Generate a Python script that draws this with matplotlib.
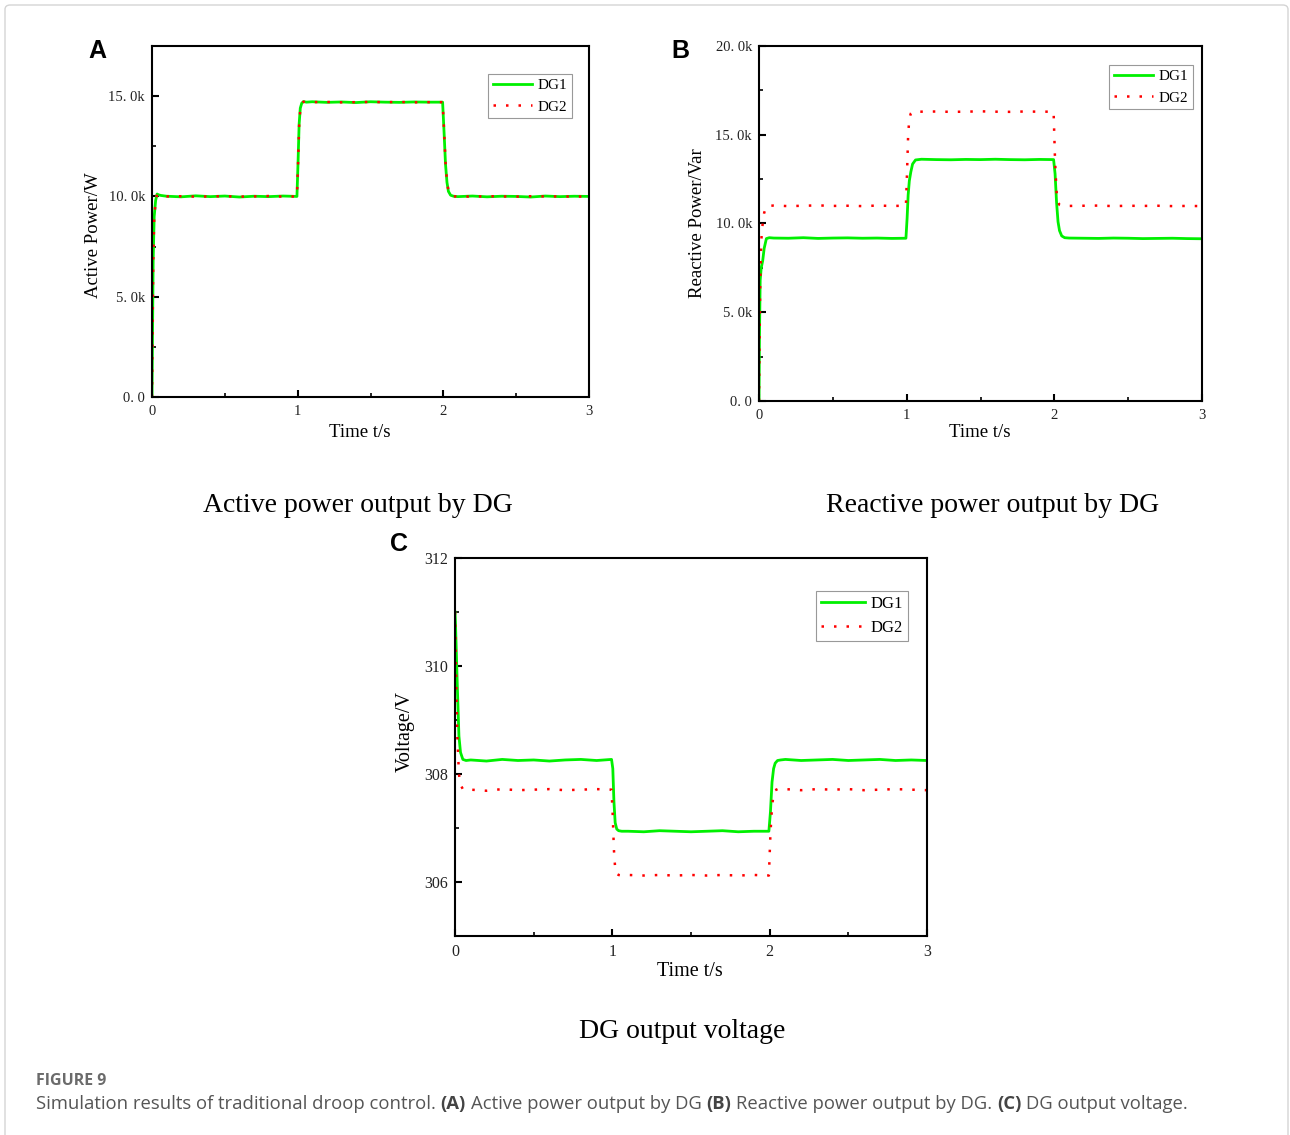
import matplotlib
matplotlib.use('Agg')
import matplotlib.pyplot as plt
from matplotlib.ticker import MultipleLocator, FuncFormatter
from matplotlib.patches import FancyBboxPatch

plt.rcParams['font.family'] = ['Liberation Serif', 'DejaVu Serif']

W, H = 1290, 1135
GREEN = '#00f000'
RED = '#ff0000'

# time samples (s), same layout for all three panels
t_a = [0, 0.003, 0.008, 0.015, 0.025, 0.035, 0.045, 0.06, 0.1, 0.2, 0.3, 0.4, 0.5, 0.6, 0.7, 0.8, 0.9, 0.995,
       1.003, 1.01, 1.018, 1.028, 1.04, 1.06, 1.1, 1.2, 1.3, 1.4, 1.5, 1.6, 1.7, 1.8, 1.9, 1.995,
       2.005, 2.015, 2.025, 2.035, 2.05, 2.07, 2.1, 2.2, 2.3, 2.4, 2.5, 2.6, 2.7, 2.8, 2.9, 3.0]
t_b = [0, 0.003, 0.008, 0.015, 0.025, 0.035, 0.05, 0.07, 0.1, 0.2, 0.3, 0.4, 0.5, 0.6, 0.7, 0.8, 0.9, 0.995,
       1.003, 1.01, 1.018, 1.028, 1.04, 1.06, 1.1, 1.2, 1.3, 1.4, 1.5, 1.6, 1.7, 1.8, 1.9, 1.995,
       2.005, 2.015, 2.025, 2.035, 2.05, 2.07, 2.1, 2.2, 2.3, 2.4, 2.5, 2.6, 2.7, 2.8, 2.9, 3.0]
t_c = t_b

# (A) active power, W
p_dg1 = [0, 2600, 6800, 9000, 9800, 10120, 10080, 10050, 10010, 9980, 10030, 9990, 10020, 9970, 10010, 9990, 10020, 10000,
         11800, 13600, 14400, 14650, 14730, 14700, 14720, 14690, 14710, 14680, 14720, 14700, 14690, 14710, 14700, 14700,
         13200, 11600, 10700, 10250, 10060, 10010, 9990, 10020, 9980, 10010, 10000, 9970, 10020, 9990, 10010, 10000]
p_dg2 = [0, 2500, 6700, 8900, 9750, 10100, 10060, 10030, 10000, 10010, 9990, 10000, 10010, 9990, 10000, 10020, 9990, 10000,
         11700, 13500, 14350, 14630, 14720, 14710, 14700, 14710, 14690, 14700, 14710, 14700, 14710, 14690, 14700, 14700,
         13300, 11700, 10750, 10280, 10070, 10000, 10000, 9990, 10010, 10000, 9990, 10010, 10000, 10000, 9990, 10000]

# (B) reactive power, Var
q_dg1 = [0, 3500, 6800, 7500, 7900, 8600, 9150, 9200, 9180, 9170, 9200, 9160, 9180, 9190, 9170, 9180, 9160, 9170,
         10300, 11600, 12400, 12900, 13350, 13580, 13620, 13600, 13590, 13610, 13600, 13620, 13600, 13590, 13610, 13600,
         12800, 11200, 10100, 9600, 9300, 9200, 9180, 9170, 9160, 9180, 9170, 9150, 9160, 9170, 9150, 9140]
q_dg2 = [0, 3000, 6500, 9000, 10000, 10600, 10950, 11000, 11010, 10980, 11000, 11020, 10990, 11000, 10980, 11010, 10990, 11000,
         13000, 15000, 15900, 16200, 16300, 16320, 16300, 16310, 16290, 16300, 16320, 16300, 16290, 16310, 16300, 16300,
         13500, 11800, 11200, 11050, 11000, 11010, 10990, 11000, 11010, 10980, 11000, 10990, 11000, 10980, 10990, 10980]

# (C) output voltage, V
v_dg1 = [311.0, 310.8, 310.3, 309.6, 308.7, 308.4, 308.27, 308.25, 308.26, 308.24, 308.27, 308.25, 308.26, 308.24, 308.26, 308.27, 308.25, 308.27,
         308.1, 307.5, 307.1, 306.98, 306.95, 306.94, 306.94, 306.93, 306.95, 306.94, 306.93, 306.94, 306.95, 306.93, 306.94, 306.94,
         307.3, 307.85, 308.1, 308.2, 308.25, 308.26, 308.27, 308.25, 308.26, 308.27, 308.25, 308.26, 308.27, 308.25, 308.26, 308.25]
v_dg2 = [311.0, 310.5, 309.6, 308.7, 308.0, 307.8, 307.72, 307.70, 307.71, 307.69, 307.72, 307.70, 307.71, 307.72, 307.70, 307.71, 307.72, 307.71,
         307.2, 306.6, 306.25, 306.15, 306.13, 306.12, 306.13, 306.12, 306.13, 306.12, 306.13, 306.12, 306.13, 306.12, 306.13, 306.12,
         306.9, 307.4, 307.62, 307.7, 307.72, 307.71, 307.72, 307.70, 307.72, 307.71, 307.72, 307.70, 307.71, 307.72, 307.71, 307.70]

fig = plt.figure(figsize=(W / 100, H / 100), dpi=100)

# light frame round the whole figure
fig.patches.append(FancyBboxPatch((5 / W, -0.02), 1283 / W, 1 - 5 / H + 0.02,
                                  boxstyle='round,pad=0,rounding_size=0.004',
                                  transform=fig.transFigure, fill=False,
                                  edgecolor='#d4d4d4', linewidth=1))


def add_axes_px(left, top, right, bottom):
    return fig.add_axes([left / W, 1 - bottom / H, (right - left) / W, (bottom - top) / H])


def k_fmt(v, pos):
    if abs(v) < 1e-9:
        return '0. 0'
    return f'{v / 1000:.1f}k'.replace('.', '. ')


def style_axes(ax, tick_size):
    for s in ax.spines.values():
        s.set_linewidth(1.5)
    ax.tick_params(which='major', direction='in', length=5, width=1.5, labelsize=tick_size)
    ax.tick_params(which='minor', direction='in', length=3, width=1.2)
    ax.tick_params(axis='x', which='major', pad=6)
    ax.tick_params(axis='y', which='major', pad=5)
    ax.set_xlim(0, 3)
    ax.xaxis.set_major_locator(MultipleLocator(1))
    ax.xaxis.set_minor_locator(MultipleLocator(0.5))
    for lab in ax.get_xticklabels() + ax.get_yticklabels():
        lab.set_color('#222222')


def draw_pair(ax, t, y1, y2):
    ax.plot(t, y1, color=GREEN, lw=2.0, label='DG1')
    ax.plot(t, y2, color=RED, lw=1.8, ls=(0, (1, 4)), label='DG2')


def add_legend(ax, ax_w, ax_h, dx, dy, size):
    ax.legend(loc='upper right', bbox_to_anchor=(1 - dx / ax_w, 1 - dy / ax_h),
              borderaxespad=0, fancybox=False, edgecolor='#999999', framealpha=1,
              fontsize=size, handlelength=2.6, handletextpad=0.35,
              labelspacing=0.5, borderpad=0.3)
    ax.get_legend().get_frame().set_linewidth(0.8)


# ---- panel A ----
ax_a = add_axes_px(152, 46, 589, 397)
draw_pair(ax_a, t_a, p_dg1, p_dg2)
style_axes(ax_a, 10.5)
ax_a.set_ylim(0, 17500)
ax_a.yaxis.set_major_locator(MultipleLocator(5000))
ax_a.yaxis.set_minor_locator(MultipleLocator(2500))
ax_a.yaxis.set_major_formatter(FuncFormatter(k_fmt))
ax_a.set_ylabel('Active Power/W', fontsize=13.5)
ax_a.yaxis.set_label_coords(-0.114, 0.46)
ax_a.set_xlabel('Time t/s', fontsize=13.5, va='top')
ax_a.xaxis.set_label_coords(0.476, -0.077)
add_legend(ax_a, 437, 351, 17, 28, 11)

# ---- panel B ----
ax_b = add_axes_px(759, 46, 1202, 401)
draw_pair(ax_b, t_b, q_dg1, q_dg2)
style_axes(ax_b, 10.5)
ax_b.set_ylim(0, 20000)
ax_b.yaxis.set_major_locator(MultipleLocator(5000))
ax_b.yaxis.set_minor_locator(MultipleLocator(2500))
ax_b.yaxis.set_major_formatter(FuncFormatter(k_fmt))
ax_b.set_ylabel('Reactive Power/Var', fontsize=13.5)
ax_b.yaxis.set_label_coords(-0.12, 0.5)
ax_b.set_xlabel('Time t/s', fontsize=13.5, va='top')
ax_b.xaxis.set_label_coords(0.499, -0.065)
add_legend(ax_b, 443, 355, 9, 19, 11)

# ---- panel C ----
ax_c = add_axes_px(455, 558, 927, 936)
draw_pair(ax_c, t_c, v_dg1, v_dg2)
style_axes(ax_c, 11.5)
ax_c.set_ylim(305, 312)
ax_c.yaxis.set_major_locator(MultipleLocator(2))
ax_c.yaxis.set_minor_locator(MultipleLocator(1))
ax_c.yaxis.set_major_formatter(FuncFormatter(lambda v, p: f'{v:.0f}'))
ax_c.set_ylabel('Voltage/V', fontsize=14.5)
ax_c.yaxis.set_label_coords(-0.085, 0.54)
ax_c.set_xlabel('Time t/s', fontsize=14.5, va='top')
ax_c.xaxis.set_label_coords(0.498, -0.069)
add_legend(ax_c, 472, 378, 19, 33, 12)

# panel letters and sub-captions
for letter, x, y in [('A', 88, 58), ('B', 671, 58), ('C', 390, 551)]:
    fig.text(x / W, 1 - y / H, letter, family='Liberation Sans', weight='bold',
             fontsize=18, va='baseline', ha='left')
for text, x, y in [('Active power output by DG', 358, 506),
                   ('Reactive power output by DG', 993, 506),
                   ('DG output voltage', 682, 1031)]:
    fig.text(x / W, 1 - y / H, text, fontsize=20, ha='center', va='center')

# figure caption
cap_font = ['Open Sans', 'DejaVu Sans']
fig.text(36 / W, 1 - 1085 / H, 'FIGURE 9', family=cap_font, weight='bold',
         fontsize=11.5, color='#6b6b6b', va='baseline')

pieces = [('Simulation results of traditional droop control.', 'normal'),
          ('(A)', 'bold'), ('Active power output by DG', 'normal'),
          ('(B)', 'bold'), ('Reactive power output by DG.', 'normal'),
          ('(C)', 'bold'), ('DG output voltage.', 'normal')]

renderer = fig.canvas.get_renderer()


def caption_line(size, draw):
    x = 36.0
    made = []
    probe1 = fig.text(0, 0, 'x x', family=cap_font, fontsize=size)
    probe2 = fig.text(0, 0, 'xx', family=cap_font, fontsize=size)
    space = probe1.get_window_extent(renderer).width - probe2.get_window_extent(renderer).width
    probe1.remove()
    probe2.remove()
    for i, (txt, wt) in enumerate(pieces):
        t = fig.text(x / W, 1 - 1109 / H, txt, family=cap_font, weight=wt, fontsize=size,
                     color='#555555' if wt == 'normal' else '#444444', va='baseline')
        x += t.get_window_extent(renderer).width + space
        made.append(t)
    if not draw:
        for t in made:
            t.remove()
    return x - space - 36


size = 12.5
width = caption_line(size, False)
size = size * 1155 / width
caption_line(size, True)

fig.savefig('out.png', dpi=100)
